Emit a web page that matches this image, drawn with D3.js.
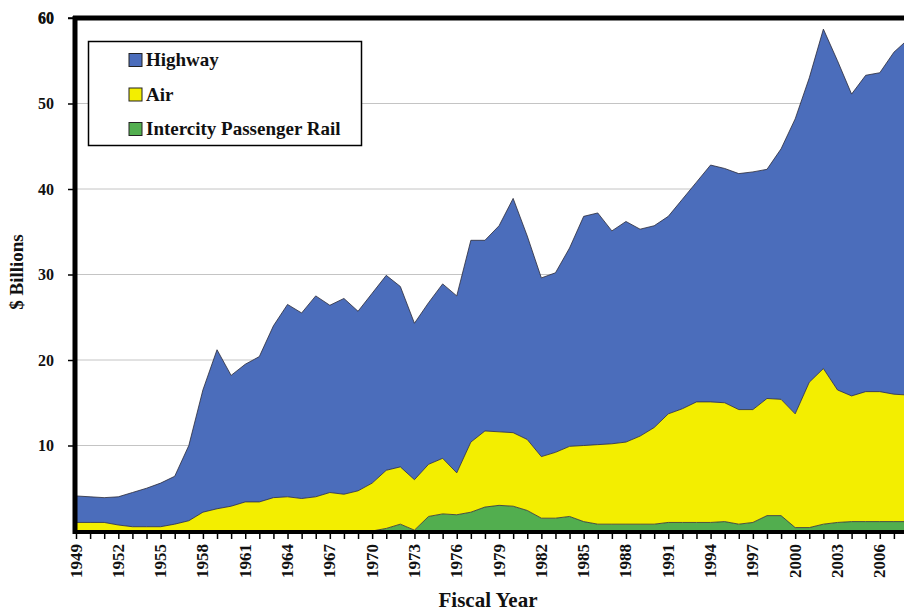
<!DOCTYPE html>
<html>
<head>
<meta charset="utf-8">
<script src="https://cdnjs.cloudflare.com/ajax/libs/d3/7.8.5/d3.min.js"></script>
<style>
  body { margin:0; background:#fff; }
  #graph1 { width:904px; height:612px; overflow:hidden; }
</style>
</head>
<body>
<div id="graph1"></div>
<script>
// fiscal years 1949 - 2008
var years = d3.range(1949, 2009);

var highway = [3.1, 3.0, 2.9, 3.3, 4.0, 4.5, 5.1, 5.6, 8.8, 14.3,
               18.6, 15.3, 16.1, 17.0, 20.1, 22.5, 21.7, 23.5, 21.9, 22.9,
               21.0, 22.2, 22.8, 21.1, 18.3, 18.9, 20.4, 20.7, 23.6, 22.3,
               24.1, 27.4, 23.8, 20.9, 21.0, 23.2, 26.8, 27.1, 24.9, 25.8,
               24.2, 23.6, 23.1, 24.5, 25.7, 27.7, 27.4, 27.6, 27.8, 26.8,
               29.3, 34.5, 35.6, 39.7, 38.5, 35.3, 37.0, 37.3, 40.0, 41.6];

var air = [1.0, 1.0, 1.0, 0.7, 0.5, 0.5, 0.5, 0.8, 1.2, 2.2,
           2.6, 2.9, 3.4, 3.4, 3.9, 4.0, 3.8, 4.0, 4.5, 4.3,
           4.7, 5.6, 6.8, 6.7, 5.9, 6.1, 6.5, 4.9, 8.2, 8.9,
           8.6, 8.6, 8.3, 7.2, 7.7, 8.2, 8.9, 9.3, 9.4, 9.6,
           10.3, 11.3, 12.7, 13.3, 14.1, 14.1, 13.9, 13.4, 13.2, 13.7,
           13.6, 13.3, 17.0, 18.2, 15.5, 14.7, 15.2, 15.2, 14.9, 14.8];

var rail = [0, 0, 0, 0, 0, 0, 0, 0, 0, 0,
            0, 0, 0, 0, 0, 0, 0, 0, 0, 0,
            0, 0, 0.3, 0.8, 0.1, 1.7, 2.0, 1.9, 2.2, 2.8,
            3.0, 2.9, 2.4, 1.5, 1.5, 1.7, 1.1, 0.8, 0.8, 0.8,
            0.8, 0.8, 1.0, 1.0, 1.0, 1.0, 1.1, 0.8, 1.0, 1.8,
            1.8, 0.4, 0.4, 0.8, 1.0, 1.1, 1.1, 1.1, 1.1, 1.1];

var series_names = ["Intercity Passenger Rail", "Air", "Highway"];
var legend_names = ["Highway", "Air", "Intercity Passenger Rail"];
var series_colors = {"Highway": "#4b6dbb", "Air": "#f3ee00", "Intercity Passenger Rail": "#52ae4f"};

var y_ticks = [0, 10, 20, 30, 40, 50, 60];
var x_labels = d3.range(1949, 2009, 3);

function draw_chart(){
    var left = 76, top = 18, bottom = 531;
    var xscale = d3.scaleLinear()
      .domain([1949, 2008])
      .range([left, 908]);
    var yscale = d3.scaleLinear()
      .domain([0, 60])
      .range([bottom, top]);

    var svg = d3.select("#graph1").append("svg")
      .attr("width", 904)
      .attr("height", 612)
      .style("font-family", "'Liberation Serif', 'Times New Roman', serif")
      .style("font-weight", "bold");

    // gridlines
    svg.append("g").selectAll("line")
      .data(y_ticks.filter(function(d){ return d > 0 && d < 60; }))
      .enter().append("line")
      .attr("x1", left).attr("x2", 904)
      .attr("y1", function(d){ return yscale(d); })
      .attr("y2", function(d){ return yscale(d); })
      .attr("stroke", "#c4c4c4")
      .attr("stroke-width", 1);

    var table = years.map(function(yr, i){
        return {"year": yr, "Highway": highway[i], "Air": air[i], "Intercity Passenger Rail": rail[i]};
    });
    var stacked = d3.stack().keys(series_names)(table);

    var area = d3.area()
      .x(function(d){ return xscale(d.data.year); })
      .y0(function(d){ return yscale(d[0]); })
      .y1(function(d){ return yscale(d[1]); });
    var topline = d3.line()
      .x(function(d){ return xscale(d.data.year); })
      .y(function(d){ return yscale(d[1]); });

    svg.append("g").selectAll("path")
      .data(stacked)
      .enter().append("path")
      .attr("d", area)
      .attr("fill", function(d){ return series_colors[d.key]; });

    svg.append("g").selectAll("path")
      .data(stacked)
      .enter().append("path")
      .attr("d", topline)
      .attr("fill", "none")
      .attr("stroke", "#2a2a3a")
      .attr("stroke-width", 1)
      .attr("stroke-opacity", 0.8);

    // y axis
    var yaxis = svg.append("g")
      .attr("transform", "translate(" + (left - 1) + ",0)")
      .call(d3.axisLeft(yscale).tickValues(y_ticks.filter(function(d){ return d > 0; })).tickSize(7).tickPadding(14));
    yaxis.select(".domain").remove();
    yaxis.selectAll(".tick line").attr("stroke", "#000").attr("stroke-width", 1.5);
    yaxis.selectAll("text")
      .attr("fill", "#111")
      .style("font-family", "'Liberation Serif', serif")
      .style("font-weight", "bold")
      .style("font-size", "16px");

    // x axis
    var xaxis = svg.append("g")
      .attr("transform", "translate(0," + (bottom + 1) + ")")
      .call(d3.axisBottom(xscale).tickValues(years).tickSize(7).tickFormat(""));
    xaxis.select(".domain").remove();
    xaxis.selectAll(".tick line").attr("stroke", "#000").attr("stroke-width", 1.5);

    svg.append("g").selectAll("text")
      .data(x_labels)
      .enter().append("text")
      .attr("transform", function(d){ return "translate(" + (xscale(d) + 5.5) + "," + (bottom + 13) + ") rotate(-90)"; })
      .attr("text-anchor", "end")
      .style("font-size", "17px")
      .attr("fill", "#111")
      .text(function(d){ return d; });

    // heavy frame lines
    svg.append("line")
      .attr("x1", left - 1).attr("x2", left - 1)
      .attr("y1", top - 2).attr("y2", bottom + 3)
      .attr("stroke", "#000").attr("stroke-width", 5);
    svg.append("line")
      .attr("x1", left - 3).attr("x2", 904)
      .attr("y1", bottom + 1).attr("y2", bottom + 1)
      .attr("stroke", "#000").attr("stroke-width", 4);
    svg.append("line")
      .attr("x1", left - 3).attr("x2", 904)
      .attr("y1", top).attr("y2", top)
      .attr("stroke", "#000").attr("stroke-width", 5);
    // 60 tick
    svg.append("line")
      .attr("x1", left - 8).attr("x2", left)
      .attr("y1", yscale(60)).attr("y2", yscale(60))
      .attr("stroke", "#000").attr("stroke-width", 1.5);
    svg.append("text")
      .attr("x", left - 22).attr("y", yscale(60) + 5)
      .attr("text-anchor", "end")
      .style("font-size", "16px")
      .attr("fill", "#111")
      .text(60);

    // axis titles
    svg.append("text")
      .attr("transform", "translate(23,272) rotate(-90)")
      .attr("text-anchor", "middle")
      .style("font-size", "19px")
      .attr("fill", "#111")
      .text("$ Billions");
    svg.append("text")
      .attr("x", 488).attr("y", 607)
      .attr("text-anchor", "middle")
      .style("font-size", "21px")
      .attr("fill", "#111")
      .text("Fiscal Year");

    // legend
    var lg = svg.append("g");
    lg.append("rect")
      .attr("x", 88.5).attr("y", 41.5)
      .attr("width", 273).attr("height", 104)
      .attr("fill", "#fff")
      .attr("stroke", "#000")
      .attr("stroke-width", 1.5);
    var items = lg.selectAll(".item")
      .data(legend_names)
      .enter().append("g")
      .attr("class", "item")
      .attr("transform", function(d, i){ return "translate(129," + (60 + i * 34.5) + ")"; });
    items.append("rect")
      .attr("x", 0).attr("y", -6.5)
      .attr("width", 13).attr("height", 13)
      .attr("fill", function(d){ return series_colors[d]; })
      .attr("stroke", "#222")
      .attr("stroke-width", 1);
    items.append("text")
      .attr("x", 17).attr("y", 6)
      .style("font-size", "19px")
      .attr("fill", "#111")
      .text(function(d){ return d; });
}

draw_chart();
</script>
</body>
</html>
